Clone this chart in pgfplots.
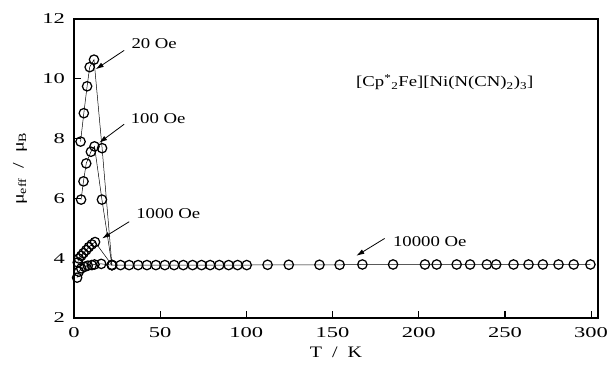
\documentclass[border=0pt]{standalone}
\usepackage{pgfplots}
\pgfplotsset{compat=1.18}
\usepackage{fontspec}
\setmainfont[FakeStretch=1.25]{Liberation Serif}
\newfontfamily\tickfont[FakeStretch=1.5]{Liberation Serif}
\usetikzlibrary{arrows.meta}

\pgfplotstableread{
T mu
3.8 7.90
5.7 8.85
7.6 9.75
9.1 10.39
11.6 10.64
16.3 7.68
22.0 3.77
}\twenty
\pgfplotstableread{
T mu
4.1 5.96
5.5 6.57
7.1 7.17
9.8 7.56
11.9 7.74
16.2 5.96
22.0 3.77
}\hundred
\pgfplotstableread{
T mu
2.2 3.86
2.8 3.99
4.2 4.08
5.5 4.17
7.1 4.27
8.6 4.37
10.3 4.46
12.2 4.54
22.0 3.77
}\thousand
\pgfplotstableread{
T mu
1.8 3.35
2.8 3.55
4.2 3.66
6.1 3.71
8.0 3.75
10.3 3.77
11.9 3.79
15.8 3.81
22.0 3.77
27.0 3.77
32.0 3.77
37.2 3.77
42.3 3.77
47.5 3.77
52.7 3.77
58.1 3.77
63.4 3.77
68.8 3.77
74.0 3.77
79.0 3.77
84.3 3.77
89.7 3.77
94.9 3.77
100.2 3.77
112.3 3.78
124.6 3.78
142.4 3.78
154.1 3.78
167.3 3.79
185.1 3.79
203.6 3.79
210.4 3.79
222.0 3.79
229.8 3.79
239.5 3.79
244.9 3.79
255.0 3.79
263.7 3.79
272.0 3.79
281.1 3.79
289.9 3.79
299.6 3.79
}\tenthousand

\pgfplotsset{circ/.style={black, line width=0.5pt, mark=o, mark size=4.7pt,
     mark options={line width=1.25pt, fill=white, solid}}}

\begin{document}
\begin{tikzpicture}
\path[use as bounding box] (-74pt,-49pt) rectangle (536pt,318pt);
\begin{axis}[
  at={(0pt,0pt)}, anchor=origin,
  width=524pt, height=299pt, scale only axis,
  xmin=0, xmax=304, ymin=2, ymax=12,
  xtick={0,50,...,300}, ytick={2,4,...,12},
  xtick pos=left, ytick pos=left,
  tick align=inside, major tick length=7pt,
  axis line style={line width=1.2pt},
  every tick/.style={line width=1.2pt, black},
  /pgf/number format/assume math mode=true,
  ticklabel style={font=\tickfont\fontsize{15}{18}\selectfont, inner sep=0pt},
  xticklabel style={yshift=-9pt},
  yticklabel style={xshift=-9pt},
  xlabel={T\ \ /\ \ K},
  ylabel={μ\textsubscript{eff}\ \ /\ \ μ\textsubscript{B}},
  every axis x label/.style={at={(axis description cs:0.5,-0.114)}, anchor=center, font=\fontsize{16}{19}\selectfont},
  every axis y label/.style={at={(axis description cs:-0.103,0.5)}, anchor=center, rotate=90, font=\fontsize{16}{19}\selectfont},
  clip=false,
]
\addplot[circ] table[x=T,y=mu] {\tenthousand};
\addplot[circ] table[x=T,y=mu] {\thousand};
\addplot[circ] table[x=T,y=mu] {\hundred};
\addplot[circ] table[x=T,y=mu] {\twenty};

\begin{scope}[font=\fontsize{15}{18}\selectfont]
\node at (axis cs:46.5,11.18) {20 Oe};
\node at (axis cs:48.8,8.68) {100 Oe};
\node at (axis cs:54.7,5.50) {1000 Oe};
\node at (axis cs:206.4,4.54) {10000 Oe};
\node at (axis cs:215.1,9.88) {[Cp\textsuperscript{*}\textsubscript{2}Fe][Ni(N(CN)\textsubscript{2})\textsubscript{3}]};
\end{scope}
\draw[-{Latex[length=8pt,width=5pt]}, line width=0.8pt] (axis cs:29.1,10.95) -- (axis cs:12.6,10.32);
\draw[-{Latex[length=8pt,width=5pt]}, line width=0.8pt] (axis cs:29.1,8.48) -- (axis cs:14.6,7.86);
\draw[-{Latex[length=8pt,width=5pt]}, line width=0.8pt] (axis cs:32.0,5.22) -- (axis cs:16.3,4.66);
\draw[-{Latex[length=8pt,width=5pt]}, line width=0.8pt] (axis cs:180.2,4.66) -- (axis cs:163.8,4.08);
\end{axis}
\end{tikzpicture}
\end{document}
